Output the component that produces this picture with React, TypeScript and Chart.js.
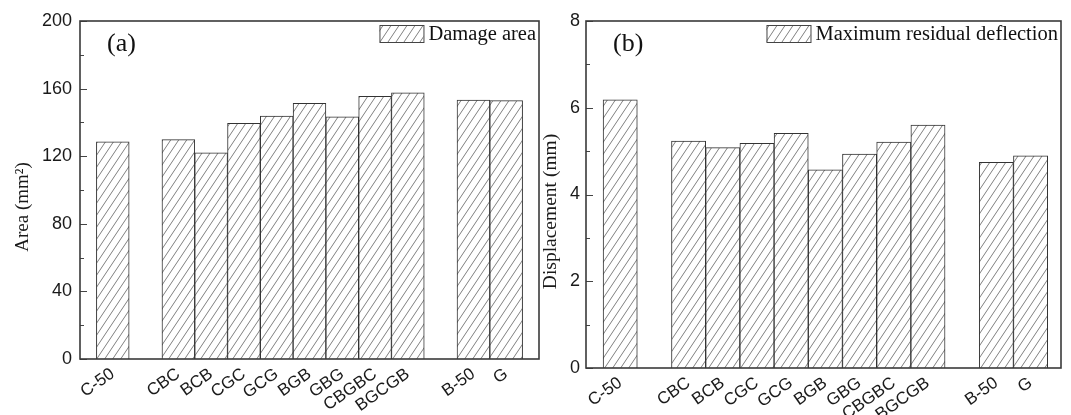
import React, { useEffect, useRef } from "react";
import { Chart, registerables } from "chart.js";

Chart.register(...registerables);

// ---- data ----
const categoryGroups: string[][] = [
  ["C-50"],
  ["CBC", "BCB", "CGC", "GCG", "BGB", "GBG", "CBGBC", "BGCGB"],
  ["B-50", "G"],
];
const damageArea = [128.5, 129.8, 122.0, 139.5, 143.8, 151.3, 143.3, 155.5, 157.5, 153.2, 152.9];
const residualDeflection = [6.18, 5.23, 5.08, 5.18, 5.41, 4.57, 4.93, 5.21, 5.6, 4.74, 4.89];
const areaTicks = [0, 40, 80, 120, 160, 200];
const displacementTicks = [0, 2, 4, 6, 8];

// slot index of each category: one empty slot before every group
const categories: string[] = [];
const slots: number[] = [];
(() => {
  let s = 0;
  for (const g of categoryGroups) {
    s += 1;
    for (const c of g) {
      categories.push(c);
      slots.push(s);
      s += 1;
    }
  }
})();

const SANS = "'Liberation Sans', Arial, sans-serif";
const SERIF = "'Liberation Serif', 'Times New Roman', serif";

function makeHatch(ctx: CanvasRenderingContext2D) {
  const c = document.createElement("canvas");
  const w = 8,
    h = 12;
  c.width = w;
  c.height = h;
  const g = c.getContext("2d")!;
  g.fillStyle = "#ffffff";
  g.fillRect(0, 0, w, h);
  g.strokeStyle = "#808080";
  g.lineWidth = 1;
  g.beginPath();
  for (const dx of [-w, 0, w]) {
    g.moveTo(dx, h);
    g.lineTo(dx + w, 0);
  }
  g.stroke();
  return ctx.createPattern(c, "repeat")!;
}

interface PanelProps {
  left: number;
  width: number;
  tag: string;
  label: string;
  values: number[];
  yTicks: number[];
  yTitle: string;
  yTitleSize: number;
  titleGap: number;
  yWidth: number;
  xHeight: number;
  padRight: number;
  xMax: number;
  tickPad: number;
}

function Panel(p: PanelProps) {
  const ref = useRef<HTMLCanvasElement>(null);
  useEffect(() => {
    const canvas = ref.current!;
    const ctx = canvas.getContext("2d")!;
    const hatch = makeHatch(ctx);
    const labelBySlot: Record<number, string> = {};
    slots.forEach((s, i) => (labelBySlot[s] = categories[i]));
    const yMin = p.yTicks[0];
    const yMax = p.yTicks[p.yTicks.length - 1];
    const step = p.yTicks[1] - p.yTicks[0];

    const decor = {
      id: "decor",
      afterDraw(chart: any) {
        const c = chart.ctx as CanvasRenderingContext2D;
        const a = chart.chartArea;
        const ys = chart.scales.y;
        c.save();
        c.strokeStyle = "#444";
        c.lineWidth = 1.2;
        const majors: number[] = ys.ticks.map((t: any) => t.value);
        c.beginPath();
        majors.forEach((v) => {
          const py = Math.round(ys.getPixelForValue(v)) + 0.5;
          c.moveTo(a.left, py);
          c.lineTo(a.left + 7, py);
        });
        for (let i = 0; i < majors.length - 1; i++) {
          const py = Math.round(ys.getPixelForValue((majors[i] + majors[i + 1]) / 2)) + 0.5;
          c.moveTo(a.left, py);
          c.lineTo(a.left + 4, py);
        }
        c.stroke();
        c.lineWidth = 1.6;
        c.strokeStyle = "#3a3a3a";
        c.strokeRect(a.left, a.top, a.right - a.left, a.bottom - a.top);

        // y-axis title
        c.fillStyle = "#1a1a1a";
        c.font = `${p.yTitleSize}px ${SERIF}`;
        c.textAlign = "center";
        c.textBaseline = "middle";
        c.save();
        c.translate(a.left - p.titleGap, (a.top + a.bottom) / 2 + 17);
        c.rotate(-Math.PI / 2);
        c.fillText(p.yTitle, 0, 0);
        c.restore();

        // panel tag
        c.fillStyle = "#111";
        c.font = `26px ${SERIF}`;
        c.textBaseline = "middle";
        c.textAlign = "left";
        c.fillText(p.tag, a.left + 27, a.top + 23);

        // legend
        const text = chart.data.datasets[0].label as string;
        c.font = `20.5px ${SERIF}`;
        const tw = c.measureText(text).width;
        const tx = a.right - 3 - tw;
        const bw = 44,
          bh = 17;
        const bx = tx - 5 - bw;
        const by = a.top + 4;
        c.fillStyle = hatch;
        c.fillRect(bx, by, bw, bh);
        c.lineWidth = 1;
        c.strokeStyle = "#444";
        c.strokeRect(bx + 0.5, by + 0.5, bw, bh);
        c.fillStyle = "#111";
        c.textBaseline = "alphabetic";
        c.fillText(text, tx, by + bh - 2);
        c.restore();
      },
    };

    const chart = new Chart(canvas, {
      type: "bar",
      data: {
        datasets: [
          {
            label: p.label,
            data: categories.map((c, i) => ({ x: slots[i], y: p.values[i] })),
            backgroundColor: hatch,
            borderColor: "#333",
            borderWidth: 1,
            barPercentage: 1,
            categoryPercentage: 1,
          },
        ],
      },
      options: {
        animation: false,
        responsive: false,
        devicePixelRatio: 1,
        layout: { padding: { top: 21, right: p.padRight, left: 0, bottom: 0 } },
        plugins: { legend: { display: false }, tooltip: { enabled: false } },
        scales: {
          x: {
            type: "linear",
            min: 0,
            max: p.xMax,
            offset: false,
            grid: { display: false, drawTicks: false },
            border: { display: false },
            afterBuildTicks: (s: any) => {
              s.ticks = slots.map((v) => ({ value: v }));
            },
            afterFit: (s: any) => {
              s.height = p.xHeight;
            },
            ticks: {
              autoSkip: false,
              minRotation: 35,
              maxRotation: 35,
              padding: 5,
              color: "#1a1a1a",
              font: { family: SANS, size: 17 },
              callback: (v: any) => labelBySlot[v as number] ?? "",
            },
          },
          y: {
            type: "linear",
            min: yMin,
            max: yMax,
            grid: { display: false, drawTicks: false },
            border: { display: false },
            afterFit: (s: any) => {
              s.width = p.yWidth;
            },
            ticks: {
              stepSize: step,
              padding: p.tickPad,
              color: "#1a1a1a",
              font: { family: SANS, size: 18 },
            },
          },
        },
      } as any,
      plugins: [decor],
    });
    return () => chart.destroy();
  }, []);
  return (
    <canvas
      ref={ref}
      width={p.width}
      height={415}
      style={{ position: "absolute", left: p.left, top: 0, width: p.width, height: 415 }}
    />
  );
}

export default function App() {
  return (
    <div
      style={{
        position: "fixed",
        left: 0,
        top: 0,
        width: 1071,
        height: 415,
        background: "#fff",
        overflow: "hidden",
      }}
    >
      <Panel
        left={0}
        width={545}
        tag="(a)"
        label="Damage area"
        values={damageArea}
        yTicks={areaTicks}
        yTitle="Area (mm²)"
        yTitleSize={19}
        titleGap={57}
        yWidth={80}
        xHeight={56}
        padRight={6}
        xMax={14}
        tickPad={8}
      />
      <Panel
        left={530}
        width={541}
        tag="(b)"
        label="Maximum residual deflection"
        values={residualDeflection}
        yTicks={displacementTicks}
        yTitle="Displacement (mm)"
        yTitleSize={19.5}
        titleGap={35}
        yWidth={56}
        xHeight={47}
        padRight={10}
        xMax={13.89}
        tickPad={6}
      />
    </div>
  );
}
